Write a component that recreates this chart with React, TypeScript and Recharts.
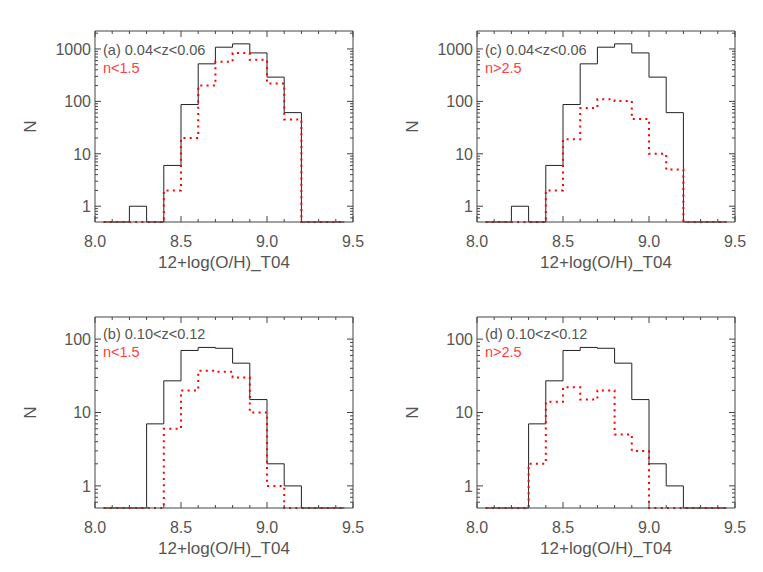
import React from "react";
import { ComposedChart, Line, XAxis, YAxis } from "recharts";

// histogram bins of 12+log(O/H)_T04, 0.1 dex wide
const BIN_CENTERS = [8.05, 8.15, 8.25, 8.35, 8.45, 8.55, 8.65, 8.75, 8.85, 8.95, 9.05, 9.15, 9.25, 9.35, 9.45];

// 0.04<z<0.06
const ALL_LOWZ = [0, 0, 1, 0, 6, 87, 520, 1080, 1250, 840, 290, 61, 0, 0, 0];
const DISK_LOWZ = [0, 0, 0, 0, 2, 20, 200, 570, 840, 620, 220, 45, 0, 0, 0];
const BULGE_LOWZ = [0, 0, 0, 0, 2, 19, 75, 110, 102, 46, 10, 5, 0, 0, 0];

// 0.10<z<0.12
const ALL_HIGHZ = [0, 0, 0, 7, 27, 70, 77, 75, 47, 15, 2, 1, 0, 0, 0];
const DISK_HIGHZ = [0, 0, 0, 0, 6, 20, 37, 36, 30, 10, 1, 0, 0, 0, 0];
const BULGE_HIGHZ = [0, 0, 0, 2, 14, 22, 15, 20, 5, 3, 0, 0, 0, 0, 0];

const X_TICKS = [8.0, 8.1, 8.2, 8.3, 8.4, 8.5, 8.6, 8.7, 8.8, 8.9, 9.0, 9.1, 9.2, 9.3, 9.4, 9.5];
const Y_TICKS = [
  0.6, 0.7, 0.8, 0.9, 1, 2, 3, 4, 5, 6, 7, 8, 9, 10, 20, 30, 40, 50, 60, 70, 80, 90,
  100, 200, 300, 400, 500, 600, 700, 800, 900, 1000, 2000,
];
const Y_LABELS = [1, 10, 100, 1000];
const Y_FLOOR = 0.5;

const AXIS = "#444";
const TEXT = "#555";
const RED = "#ff0000";
const FONT = "'Liberation Sans', Arial, sans-serif";

const W = 381;
const H = 286;
const PLOT_LEFT = 95;
const PLOT_TOP = 31;
const PLOT_W = 258;
const PLOT_H = 191;

function stepRows(all: number[], sub: number[]) {
  const rows = BIN_CENTERS.map((c, i) => ({
    x: i === 0 ? c : Math.round((c - 0.05) * 100) / 100,
    all: Math.max(all[i], Y_FLOOR),
    sub: Math.max(sub[i], Y_FLOOR),
  }));
  const last = BIN_CENTERS.length - 1;
  rows.push({ x: BIN_CENTERS[last], all: Math.max(all[last], Y_FLOOR), sub: Math.max(sub[last], Y_FLOOR) });
  return rows;
}

const isHalf = (v: number) => Math.abs(v * 2 - Math.round(v * 2)) < 1e-6;

const BottomTick = (props: any) => {
  const { x, y, payload } = props;
  const major = isHalf(payload.value);
  return (
    <g>
      <line x1={x} x2={x} y1={y} y2={y - (major ? 6 : 3)} stroke={AXIS} />
      {major && (
        <text x={x} y={y + 25} textAnchor="middle" fill={TEXT} fontSize={16} fontFamily={FONT}>
          {payload.value.toFixed(1)}
        </text>
      )}
    </g>
  );
};

const TopTick = (props: any) => {
  const { x, y, payload } = props;
  const major = isHalf(payload.value);
  return <line x1={x} x2={x} y1={y} y2={y + (major ? 6 : 3)} stroke={AXIS} />;
};

const isDecade = (v: number) => Y_LABELS.includes(v);

const LeftTick = (props: any) => {
  const { x, y, payload } = props;
  const major = isDecade(payload.value);
  return (
    <g>
      <line x1={x} x2={x + (major ? 6 : 3)} y1={y} y2={y} stroke={AXIS} />
      {major && (
        <text x={x - 4} y={y} dy="0.36em" textAnchor="end" fill={TEXT} fontSize={16} fontFamily={FONT}>
          {payload.value}
        </text>
      )}
    </g>
  );
};

const RightTick = (props: any) => {
  const { x, y, payload } = props;
  const major = isDecade(payload.value);
  return <line x1={x} x2={x - (major ? 6 : 3)} y1={y} y2={y} stroke={AXIS} />;
};

interface PanelProps {
  left: number;
  top: number;
  all: number[];
  sub: number[];
  yMax: number;
  tag: string;
  zLabel: string;
  nLabel: string;
  textTop: number;
}

function Panel({ left, top, all, sub, yMax, tag, zLabel, nLabel, textTop }: PanelProps) {
  const data = stepRows(all, sub);
  const yTicks = Y_TICKS.filter((t) => t < yMax);
  return (
    <div style={{ position: "absolute", left, top, width: W, height: H }}>
      <ComposedChart
        width={W}
        height={H}
        data={data}
        margin={{ top: PLOT_TOP - 1, left: PLOT_LEFT - 40, right: W - PLOT_LEFT - PLOT_W - 1, bottom: H - PLOT_TOP - PLOT_H - 50 }}
      >
        <XAxis
          xAxisId="b"
          dataKey="x"
          type="number"
          domain={[8.0, 9.5]}
          ticks={X_TICKS}
          interval={0}
          height={50}
          tickSize={0}
          tickMargin={0}
          axisLine={{ stroke: AXIS }}
          tick={<BottomTick />}
        />
        <XAxis
          xAxisId="t"
          dataKey="x"
          orientation="top"
          type="number"
          domain={[8.0, 9.5]}
          ticks={X_TICKS}
          interval={0}
          height={1}
          tickSize={0}
          tickMargin={0}
          axisLine={{ stroke: AXIS }}
          tick={<TopTick />}
        />
        <YAxis
          yAxisId="l"
          type="number"
          scale="log"
          domain={[Y_FLOOR, yMax]}
          ticks={yTicks}
          interval={0}
          width={40}
          tickSize={0}
          tickMargin={0}
          axisLine={{ stroke: AXIS }}
          tick={<LeftTick />}
        />
        <YAxis
          yAxisId="r"
          orientation="right"
          type="number"
          scale="log"
          domain={[Y_FLOOR, yMax]}
          ticks={yTicks}
          interval={0}
          width={1}
          tickSize={0}
          tickMargin={0}
          axisLine={{ stroke: AXIS }}
          tick={<RightTick />}
        />
        {/* invisible series so the mirrored top/right axes get the same scales */}
        <Line
          xAxisId="t"
          yAxisId="r"
          type="stepAfter"
          dataKey="all"
          stroke="none"
          dot={false}
          activeDot={false}
          isAnimationActive={false}
        />
        <Line
          xAxisId="b"
          yAxisId="l"
          type="stepAfter"
          dataKey="all"
          stroke="#222"
          strokeWidth={1}
          dot={false}
          isAnimationActive={false}
        />
        <Line
          xAxisId="b"
          yAxisId="l"
          type="stepAfter"
          dataKey="sub"
          stroke={RED}
          strokeWidth={2}
          strokeDasharray="2 4.3"
          dot={false}
          isAnimationActive={false}
        />
      </ComposedChart>
      <svg width={W} height={H} style={{ position: "absolute", left: 0, top: 0, pointerEvents: "none" }}>
        <text x={PLOT_LEFT + 8} y={textTop} fill={TEXT} fontSize={14.5} fontFamily={FONT}>
          {tag} {zLabel}
        </text>
        <text x={PLOT_LEFT + 8} y={textTop + 18} fill="#ff4040" fontSize={14.5} fontFamily={FONT}>
          {nLabel}
        </text>
        <text
          x={36}
          y={PLOT_TOP + PLOT_H / 2}
          transform={`rotate(-90 36 ${PLOT_TOP + PLOT_H / 2})`}
          textAnchor="middle"
          fill={TEXT}
          fontSize={17}
          fontFamily={FONT}
        >
          N
        </text>
        <text x={PLOT_LEFT + PLOT_W / 2} y={PLOT_TOP + PLOT_H + 46} textAnchor="middle" fill={TEXT} fontSize={17} fontFamily={FONT}>
          12+log(O/H)_T04
        </text>
      </svg>
    </div>
  );
}

export default function App() {
  return (
    <div style={{ position: "absolute", left: 0, top: 0, width: 763, height: 572, background: "#fff" }}>
      <Panel left={0} top={0} all={ALL_LOWZ} sub={DISK_LOWZ} yMax={2200} tag="(a)" zLabel="0.04<z<0.06" nLabel="n<1.5" textTop={55} />
      <Panel left={382} top={0} all={ALL_LOWZ} sub={BULGE_LOWZ} yMax={2200} tag="(c)" zLabel="0.04<z<0.06" nLabel="n>2.5" textTop={55} />
      <Panel left={0} top={286} all={ALL_HIGHZ} sub={DISK_HIGHZ} yMax={200} tag="(b)" zLabel="0.10<z<0.12" nLabel="n<1.5" textTop={52.5} />
      <Panel left={382} top={286} all={ALL_HIGHZ} sub={BULGE_HIGHZ} yMax={200} tag="(d)" zLabel="0.10<z<0.12" nLabel="n>2.5" textTop={52.5} />
    </div>
  );
}
